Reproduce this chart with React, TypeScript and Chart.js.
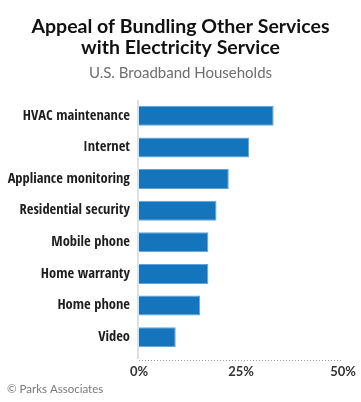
import React, { useEffect, useRef } from "react";
import { Chart, registerables } from "chart.js";

Chart.register(...registerables);

const categories = [
  "HVAC maintenance",
  "Internet",
  "Appliance monitoring",
  "Residential security",
  "Mobile phone",
  "Home warranty",
  "Home phone",
  "Video",
];
const values = [33, 27, 22, 19, 17, 17, 15, 9];
const tickValues = [0, 25, 50];
const titleLines = ["Appeal of Bundling Other Services", "with Electricity Service"];
const subtitleText = "U.S. Broadband Households";
const footerText = "© Parks Associates";

const COND = "'Open Sans Condensed', 'Roboto Condensed', sans-serif";
const MAIN = "Lato, 'Open Sans', sans-serif";

const decorPlugin = {
  id: "decor",
  beforeDraw(chart: any) {
    const { ctx, chartArea } = chart;
    ctx.save();
    ctx.strokeStyle = "#e0e0e0";
    ctx.lineWidth = 2;
    ctx.beginPath();
    ctx.moveTo(chartArea.left - 1, chartArea.top);
    ctx.lineTo(chartArea.left - 1, chartArea.bottom + 6);
    ctx.stroke();
    ctx.strokeStyle = "#9a9a9a";
    ctx.lineWidth = 1;
    ctx.setLineDash([1, 2]);
    ctx.beginPath();
    ctx.moveTo(chartArea.left, chartArea.bottom + 7.5);
    ctx.lineTo(chartArea.right, chartArea.bottom + 7.5);
    ctx.stroke();
    ctx.setLineDash([]);
    ctx.restore();
  },
  afterDraw(chart: any) {
    const { ctx, width } = chart;
    ctx.save();
    ctx.textAlign = "center";
    ctx.textBaseline = "alphabetic";
    ctx.fillStyle = "#111111";
    ctx.font = `bold 19.5px ${MAIN}`;
    ctx.fillText(titleLines[0], width / 2, 33);
    ctx.fillText(titleLines[1], width / 2, 54);
    ctx.fillStyle = "#6e6e6e";
    ctx.font = `15px ${MAIN}`;
    ctx.fillText(subtitleText, width / 2, 78);
    ctx.textAlign = "left";
    ctx.fillStyle = "#7a7a7a";
    ctx.font = `11.5px ${MAIN}`;
    ctx.fillText(footerText, 7, 393);
    ctx.restore();
  },
};

export default function App() {
  const canvasRef = useRef<HTMLCanvasElement | null>(null);

  useEffect(() => {
    document.body.style.margin = "0";
    const canvas = canvasRef.current;
    if (!canvas) return;
    const chart = new Chart(canvas, {
      type: "bar",
      data: {
        labels: categories,
        datasets: [
          {
            data: values,
            backgroundColor: "#1474bc",
            borderColor: "#5fa4da",
            borderWidth: 1,
            barPercentage: 0.63,
            categoryPercentage: 1,
          },
        ],
      },
      options: {
        indexAxis: "y",
        animation: false,
        responsive: false,
        maintainAspectRatio: false,
        layout: { padding: { top: 100, right: 18, left: 0, bottom: 0 } },
        plugins: {
          legend: { display: false },
          tooltip: { enabled: false },
          title: { display: false },
        },
        scales: {
          x: {
            min: 0,
            max: 50,
            afterFit(scale: any) {
              scale.height = 49;
              scale.paddingLeft = 0;
              scale.paddingRight = 0;
            },
            afterBuildTicks(scale: any) {
              scale.ticks = tickValues.map((v) => ({ value: v }));
            },
            grid: { display: false, drawTicks: false },
            border: { display: false },
            ticks: {
              padding: 11,
              maxRotation: 0,
              color: "#333333",
              font: { family: MAIN, size: 13, weight: "bold" },
              callback: (v: any) => `${v}%`,
            },
          },
          y: {
            afterFit(scale: any) {
              scale.width = 139;
              scale.paddingTop = 0;
              scale.paddingBottom = 0;
            },
            grid: { display: false, drawTicks: false },
            border: { display: false },
            ticks: {
              padding: 9,
              color: "#1e1e1e",
              font: { family: COND, size: 14.5, weight: "bold" },
            },
          },
        },
      },
      plugins: [decorPlugin],
    });
    return () => chart.destroy();
  }, []);

  return (
    <div style={{ width: 361, height: 402 }}>
      <canvas ref={canvasRef} width={361} height={402} style={{ display: "block" }} />
    </div>
  );
}
